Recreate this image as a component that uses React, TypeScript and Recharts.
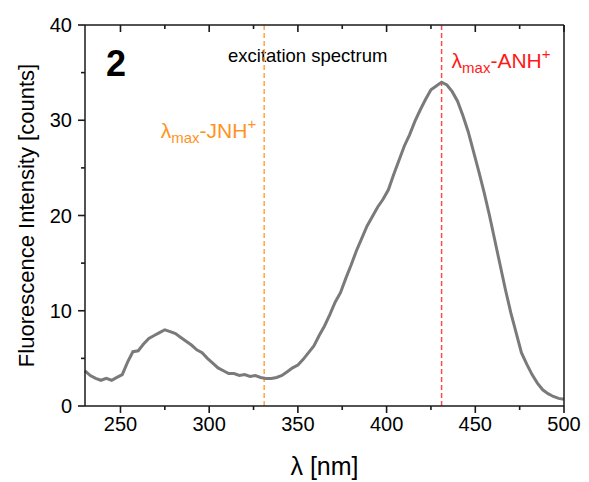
import { LineChart, Line, XAxis, YAxis, ReferenceLine } from "recharts"

const wavelengths = [
  230, 233, 236, 239, 242, 245, 248, 251, 254, 257, 260, 263, 266, 269, 272, 275, 278, 281,
  284, 287, 290, 293, 296, 299, 302, 305, 308, 311, 314, 317, 320, 323, 326, 329, 332, 335,
  338, 341, 344, 347, 350, 353, 356, 359, 362, 365, 368, 371, 374, 377, 380, 383, 386, 389,
  392, 395, 398, 401, 404, 407, 410, 413, 416, 419, 422, 425, 428, 431, 434, 437, 440, 443,
  446, 449, 452, 455, 458, 461, 464, 467, 470, 473, 476, 479, 482, 485, 488, 491, 494, 497, 500,
]

const counts = [
  3.7, 3.2, 2.9, 2.7, 2.9, 2.7, 3.0, 3.3, 4.6, 5.7, 5.8, 6.5, 7.1, 7.4, 7.7, 8.0, 7.8, 7.6,
  7.2, 6.8, 6.4, 5.9, 5.6, 5.0, 4.5, 4.0, 3.7, 3.4, 3.4, 3.2, 3.3, 3.1, 3.2, 3.0, 2.9, 2.9,
  3.0, 3.2, 3.6, 4.0, 4.3, 4.9, 5.6, 6.3, 7.4, 8.4, 9.6, 10.9, 11.9, 13.4, 14.8, 16.3, 17.6, 18.9,
  19.9, 20.9, 21.7, 22.7, 24.3, 25.8, 27.3, 28.5, 29.9, 31.1, 32.2, 33.2, 33.6, 34.0, 33.7, 33.0, 32.0, 30.5,
  28.8, 26.7, 24.6, 22.4, 20.0, 17.4, 14.8, 12.2, 9.8, 7.7, 5.6, 4.4, 3.3, 2.4, 1.7, 1.3, 1.0, 0.8, 0.7,
]

const xTicks = [250, 275, 300, 325, 350, 375, 400, 425, 450, 475, 500]
const yTicks = [0, 5, 10, 15, 20, 25, 30, 35, 40]

const jnhMax = 331
const anhMax = 431

const data = wavelengths.map((w, i) => ({ w, c: counts[i] }))

const FONT = "'Liberation Sans', Arial, sans-serif"
const TICK = "#1a1a1a"

// tick marks drawn by hand: majors 7px, minors 4px; bottom/left point out, top/right point in
function BottomTick(props: any) {
  const { x, y, payload } = props
  const major = payload.value % 50 === 0
  return (
    <g>
      <rect x={x - 0.8} y={y} width={1.6} height={major ? 7 : 4} fill={TICK} />
      {major && (
        <text x={x} y={y + 25} textAnchor="middle" fontSize={20} fontFamily={FONT} fill="#000">
          {payload.value}
        </text>
      )}
    </g>
  )
}

function TopTick(props: any) {
  const { x, y, payload } = props
  const major = payload.value % 50 === 0
  return <rect x={x - 0.8} y={y} width={1.6} height={major ? 7 : 4} fill={TICK} />
}

function LeftTick(props: any) {
  const { x, y, payload } = props
  const major = payload.value % 10 === 0
  const len = major ? 7 : 4
  return (
    <g>
      <rect x={x - len} y={y - 0.8} width={len} height={1.6} fill={TICK} />
      {major && (
        <text x={x - 13} y={y} dy={7} textAnchor="end" fontSize={20} fontFamily={FONT} fill="#000">
          {payload.value}
        </text>
      )}
    </g>
  )
}

function RightTick(props: any) {
  const { x, y, payload } = props
  const len = payload.value % 10 === 0 ? 7 : 4
  return <rect x={x - len} y={y - 0.8} width={len} height={1.6} fill={TICK} />
}

function Lambda({ x, y, anchor, color, tail }: any) {
  return (
    <text x={x} y={y} textAnchor={anchor} fontSize={21} fontFamily={FONT} fill={color}>
      λ<tspan fontSize={15} dy={5}>max</tspan>
      <tspan fontSize={21} dy={-5}>{tail}</tspan>
      <tspan fontSize={15} dy={-9}>+</tspan>
    </text>
  )
}

const axisLine = { stroke: "#1a1a1a", strokeWidth: 1.5 }

export default function App() {
  return (
    <div style={{ position: "absolute", left: 0, top: 0, width: 589, height: 482, background: "#fff", fontFamily: FONT }}>
      <LineChart width={589} height={482} data={data} margin={{ top: 24, right: 24, bottom: 0, left: 0 }}>
        <XAxis
          xAxisId="b"
          dataKey="w"
          type="number"
          domain={[230, 500]}
          ticks={xTicks}
          interval={0}
          height={76}
          tickSize={0}
          tickMargin={0}
          tickLine={false}
          axisLine={axisLine}
          tick={<BottomTick />}
          label={(p: any) => (
            <text
              x={p.viewBox.x + p.viewBox.width / 2}
              y={p.viewBox.y + 69}
              textAnchor="middle"
              fontSize={25}
              fontFamily={FONT}
              fill="#000"
            >
              λ [nm]
            </text>
          )}
        />
        <XAxis
          xAxisId="t"
          orientation="top"
          dataKey="w"
          type="number"
          domain={[230, 500]}
          ticks={xTicks}
          interval={0}
          height={1}
          tickSize={0}
          tickMargin={0}
          tickLine={false}
          axisLine={axisLine}
          tick={<TopTick />}
        />
        <YAxis
          yAxisId="l"
          type="number"
          domain={[0, 40]}
          ticks={yTicks}
          interval={0}
          width={85}
          tickSize={0}
          tickMargin={0}
          tickLine={false}
          axisLine={axisLine}
          tick={<LeftTick />}
          label={(p: any) => {
            const cx = 26
            const cy = p.viewBox.y + p.viewBox.height / 2
            return (
              <text
                x={cx}
                y={cy}
                transform={`rotate(-90 ${cx} ${cy})`}
                textAnchor="middle"
                dominantBaseline="central"
                fontSize={22}
                fontFamily={FONT}
                fill="#000"
              >
                Fluorescence Intensity [counts]
              </text>
            )
          }}
        />
        <YAxis
          yAxisId="r"
          orientation="right"
          type="number"
          domain={[0, 40]}
          ticks={yTicks}
          interval={0}
          width={1}
          tickSize={0}
          tickMargin={0}
          tickLine={false}
          axisLine={axisLine}
          tick={<RightTick />}
        />
        <ReferenceLine
          xAxisId="b"
          yAxisId="l"
          x={jnhMax}
          stroke="#ffa445"
          strokeWidth={1.5}
          strokeDasharray="5 3"
          label={(p: any) => (
            <Lambda x={p.viewBox.x - 8} y={p.viewBox.y + 113} anchor="end" color="#ff931f" tail="-JNH" />
          )}
        />
        <ReferenceLine
          xAxisId="b"
          yAxisId="l"
          x={anhMax}
          stroke="#ff4a4a"
          strokeWidth={1.5}
          strokeDasharray="5 3"
          label={(p: any) => (
            <Lambda x={p.viewBox.x + 10} y={p.viewBox.y + 43} anchor="start" color="#ff1a1a" tail="-ANH" />
          )}
        />
        <Line
          xAxisId="b"
          yAxisId="l"
          dataKey="c"
          type="linear"
          stroke="#7a7a7a"
          strokeWidth={3}
          dot={false}
          isAnimationActive={false}
        />
        <text x={106} y={76} fontSize={36} fontWeight="bold" fontFamily={FONT} fill="#000">
          2
        </text>
        <text x={228} y={62} fontSize={18.5} fontFamily={FONT} fill="#000">
          excitation spectrum
        </text>
      </LineChart>
    </div>
  )
}
